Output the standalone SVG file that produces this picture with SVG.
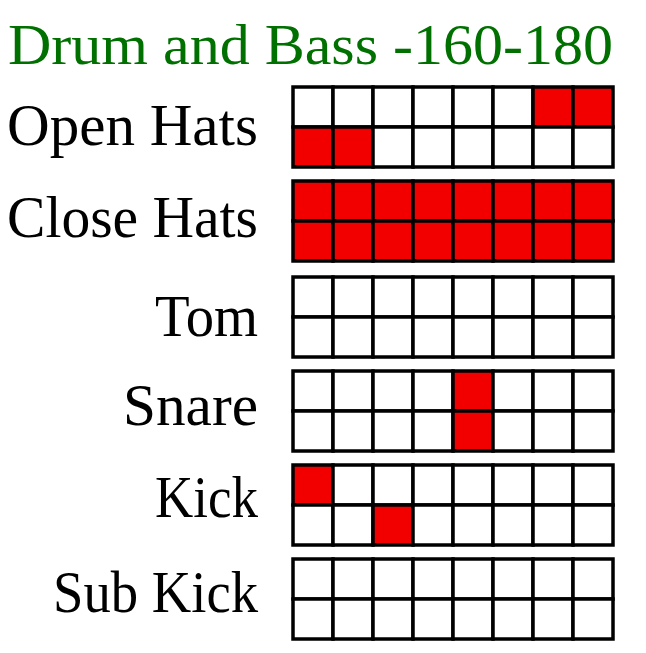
<svg xmlns="http://www.w3.org/2000/svg" width="646" height="653" viewBox="0 0 646 653">
<defs>
<style>
.t{font-family:"Liberation Serif","DejaVu Serif",serif;}
.title{font-size:56px;fill:#007000;}
.lab{font-size:59px;fill:#000;}
.c{fill:#fff;stroke:#000;stroke-width:3.5;}
.r{fill:#f20000;stroke:#000;stroke-width:3.5;}
</style>
</defs>
<rect width="646" height="653" fill="#fff"/>
<text id="title" class="t title" x="8" y="64" textLength="605" lengthAdjust="spacingAndGlyphs">Drum and Bass -160-180</text>

<g id="open-hats">
<text class="t lab" x="7" y="145" textLength="251" lengthAdjust="spacingAndGlyphs">Open Hats</text>
<g transform="translate(293,87)">
<rect class="c" x="0" y="0" width="40" height="40"/><rect class="c" x="40" y="0" width="40" height="40"/><rect class="c" x="80" y="0" width="40" height="40"/><rect class="c" x="120" y="0" width="40" height="40"/><rect class="c" x="160" y="0" width="40" height="40"/><rect class="c" x="200" y="0" width="40" height="40"/><rect class="r" x="240" y="0" width="40" height="40"/><rect class="r" x="280" y="0" width="40" height="40"/>
<rect class="r" x="0" y="40" width="40" height="40"/><rect class="r" x="40" y="40" width="40" height="40"/><rect class="c" x="80" y="40" width="40" height="40"/><rect class="c" x="120" y="40" width="40" height="40"/><rect class="c" x="160" y="40" width="40" height="40"/><rect class="c" x="200" y="40" width="40" height="40"/><rect class="c" x="240" y="40" width="40" height="40"/><rect class="c" x="280" y="40" width="40" height="40"/>
</g>
</g>

<g id="close-hats">
<text class="t lab" x="7" y="237" textLength="251" lengthAdjust="spacingAndGlyphs">Close Hats</text>
<g transform="translate(293,181)">
<rect class="r" x="0" y="0" width="40" height="40"/><rect class="r" x="40" y="0" width="40" height="40"/><rect class="r" x="80" y="0" width="40" height="40"/><rect class="r" x="120" y="0" width="40" height="40"/><rect class="r" x="160" y="0" width="40" height="40"/><rect class="r" x="200" y="0" width="40" height="40"/><rect class="r" x="240" y="0" width="40" height="40"/><rect class="r" x="280" y="0" width="40" height="40"/>
<rect class="r" x="0" y="40" width="40" height="40"/><rect class="r" x="40" y="40" width="40" height="40"/><rect class="r" x="80" y="40" width="40" height="40"/><rect class="r" x="120" y="40" width="40" height="40"/><rect class="r" x="160" y="40" width="40" height="40"/><rect class="r" x="200" y="40" width="40" height="40"/><rect class="r" x="240" y="40" width="40" height="40"/><rect class="r" x="280" y="40" width="40" height="40"/>
</g>
</g>

<g id="tom">
<text class="t lab" x="155" y="336" textLength="103" lengthAdjust="spacingAndGlyphs">Tom</text>
<g transform="translate(293,277)">
<rect class="c" x="0" y="0" width="40" height="40"/><rect class="c" x="40" y="0" width="40" height="40"/><rect class="c" x="80" y="0" width="40" height="40"/><rect class="c" x="120" y="0" width="40" height="40"/><rect class="c" x="160" y="0" width="40" height="40"/><rect class="c" x="200" y="0" width="40" height="40"/><rect class="c" x="240" y="0" width="40" height="40"/><rect class="c" x="280" y="0" width="40" height="40"/>
<rect class="c" x="0" y="40" width="40" height="40"/><rect class="c" x="40" y="40" width="40" height="40"/><rect class="c" x="80" y="40" width="40" height="40"/><rect class="c" x="120" y="40" width="40" height="40"/><rect class="c" x="160" y="40" width="40" height="40"/><rect class="c" x="200" y="40" width="40" height="40"/><rect class="c" x="240" y="40" width="40" height="40"/><rect class="c" x="280" y="40" width="40" height="40"/>
</g>
</g>

<g id="snare">
<text class="t lab" x="123" y="425" textLength="135" lengthAdjust="spacingAndGlyphs">Snare</text>
<g transform="translate(293,371)">
<rect class="c" x="0" y="0" width="40" height="40"/><rect class="c" x="40" y="0" width="40" height="40"/><rect class="c" x="80" y="0" width="40" height="40"/><rect class="c" x="120" y="0" width="40" height="40"/><rect class="r" x="160" y="0" width="40" height="40"/><rect class="c" x="200" y="0" width="40" height="40"/><rect class="c" x="240" y="0" width="40" height="40"/><rect class="c" x="280" y="0" width="40" height="40"/>
<rect class="c" x="0" y="40" width="40" height="40"/><rect class="c" x="40" y="40" width="40" height="40"/><rect class="c" x="80" y="40" width="40" height="40"/><rect class="c" x="120" y="40" width="40" height="40"/><rect class="r" x="160" y="40" width="40" height="40"/><rect class="c" x="200" y="40" width="40" height="40"/><rect class="c" x="240" y="40" width="40" height="40"/><rect class="c" x="280" y="40" width="40" height="40"/>
</g>
</g>

<g id="kick">
<text class="t lab" x="155" y="517" textLength="103" lengthAdjust="spacingAndGlyphs">Kick</text>
<g transform="translate(293,465)">
<rect class="r" x="0" y="0" width="40" height="40"/><rect class="c" x="40" y="0" width="40" height="40"/><rect class="c" x="80" y="0" width="40" height="40"/><rect class="c" x="120" y="0" width="40" height="40"/><rect class="c" x="160" y="0" width="40" height="40"/><rect class="c" x="200" y="0" width="40" height="40"/><rect class="c" x="240" y="0" width="40" height="40"/><rect class="c" x="280" y="0" width="40" height="40"/>
<rect class="c" x="0" y="40" width="40" height="40"/><rect class="c" x="40" y="40" width="40" height="40"/><rect class="r" x="80" y="40" width="40" height="40"/><rect class="c" x="120" y="40" width="40" height="40"/><rect class="c" x="160" y="40" width="40" height="40"/><rect class="c" x="200" y="40" width="40" height="40"/><rect class="c" x="240" y="40" width="40" height="40"/><rect class="c" x="280" y="40" width="40" height="40"/>
</g>
</g>

<g id="sub-kick">
<text class="t lab" x="53" y="612" textLength="205" lengthAdjust="spacingAndGlyphs">Sub Kick</text>
<g transform="translate(293,559)">
<rect class="c" x="0" y="0" width="40" height="40"/><rect class="c" x="40" y="0" width="40" height="40"/><rect class="c" x="80" y="0" width="40" height="40"/><rect class="c" x="120" y="0" width="40" height="40"/><rect class="c" x="160" y="0" width="40" height="40"/><rect class="c" x="200" y="0" width="40" height="40"/><rect class="c" x="240" y="0" width="40" height="40"/><rect class="c" x="280" y="0" width="40" height="40"/>
<rect class="c" x="0" y="40" width="40" height="40"/><rect class="c" x="40" y="40" width="40" height="40"/><rect class="c" x="80" y="40" width="40" height="40"/><rect class="c" x="120" y="40" width="40" height="40"/><rect class="c" x="160" y="40" width="40" height="40"/><rect class="c" x="200" y="40" width="40" height="40"/><rect class="c" x="240" y="40" width="40" height="40"/><rect class="c" x="280" y="40" width="40" height="40"/>
</g>
</g>
<g id="connectors"/>
</svg>
